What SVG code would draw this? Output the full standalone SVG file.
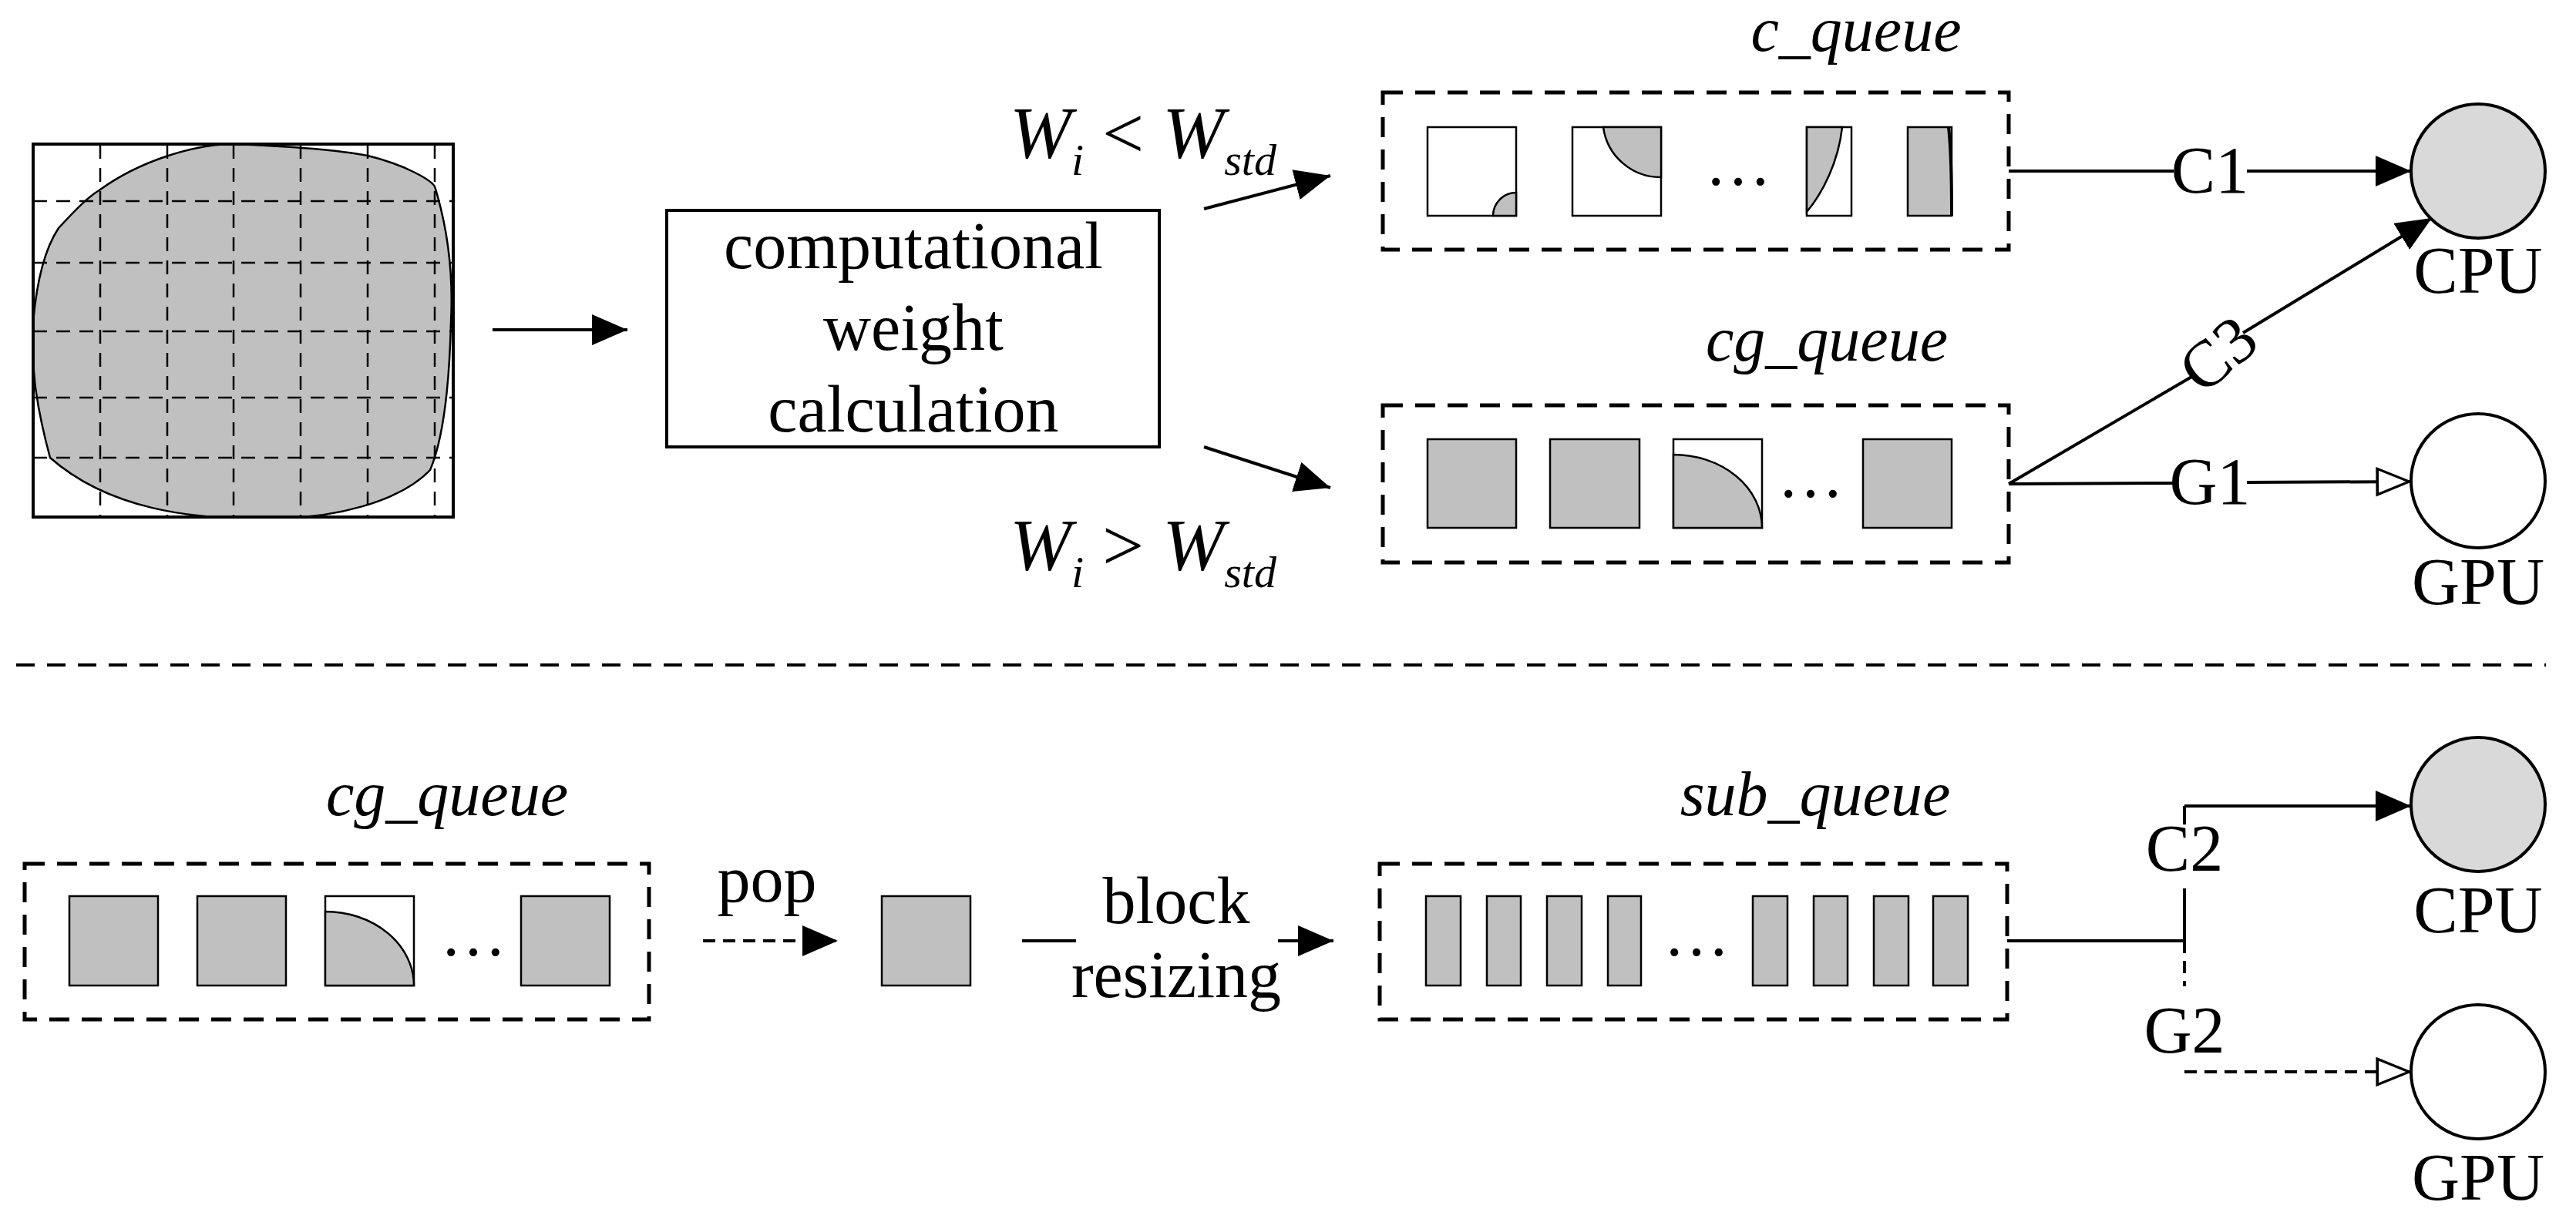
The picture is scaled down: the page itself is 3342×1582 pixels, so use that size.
<svg xmlns="http://www.w3.org/2000/svg" width="3342" height="1582" viewBox="0 0 3342 1582">
<style>
text{font-family:"Liberation Serif","Times New Roman",serif;fill:#000}
.t{font-size:86px;text-anchor:middle}
.i{font-style:italic}
.q{font-size:82px;font-style:italic;text-anchor:middle}
.box{fill:none;stroke:#000;stroke-width:5;stroke-dasharray:26,16}
.sq{fill:#c0c0c0;stroke:#000;stroke-width:2.5}
.wsq{fill:#fff;stroke:#000;stroke-width:2.5}
.ln{stroke:#000;stroke-width:4;fill:none}
.dl{stroke:#000;stroke-width:4;fill:none;stroke-dasharray:16,10}
.g{stroke:#000;stroke-width:2.5;stroke-dasharray:18,12}
</style>
<defs>
<marker id="af" viewBox="0 0 10 10" refX="10" refY="5" markerWidth="46" markerHeight="40" markerUnits="userSpaceOnUse" orient="auto" preserveAspectRatio="none"><path d="M0,0L10,5L0,10z"/></marker>
<marker id="ah" viewBox="0 0 10 10" refX="10" refY="5" markerWidth="46" markerHeight="40" markerUnits="userSpaceOnUse" orient="auto" preserveAspectRatio="none"><path d="M0.5,0.8L9.5,5L0.5,9.2z" fill="#fff" stroke="#000" stroke-width="0.8"/></marker>
</defs>
<rect width="3342" height="1582" fill="#fff"/>
<g id="grid">
<path d="M303,187 C380,190 440,195 477,202 C530,215 560,235 564,242 C582,300 588,360 585,418 C583,500 575,570 558,610 C520,650 430,676 347,671 C250,676 140,660 65,594 C45,520 40,470 43,418 C48,360 60,320 76,296 C100,270 115,255 130,246 C180,210 250,187 303,187 Z" fill="#c0c0c0" stroke="#000" stroke-width="2.5"/>
<g class="g"><line x1="130" y1="188" x2="130" y2="669"/><line x1="217" y1="188" x2="217" y2="669"/><line x1="303" y1="188" x2="303" y2="669"/><line x1="390" y1="188" x2="390" y2="669"/><line x1="477" y1="188" x2="477" y2="669"/><line x1="564" y1="188" x2="564" y2="669"/>
<line x1="43" y1="261" x2="588" y2="261"/><line x1="43" y1="341" x2="588" y2="341"/><line x1="43" y1="430" x2="588" y2="430"/><line x1="43" y1="516" x2="588" y2="516"/><line x1="43" y1="594" x2="588" y2="594"/></g>
<rect x="43" y="187" width="545" height="484" fill="none" stroke="#000" stroke-width="4"/>
</g>
<g id="calc">
<rect x="865" y="273" width="639" height="307" fill="#fff" stroke="#000" stroke-width="4"/>
<text class="t" x="1185" y="348">computational</text>
<text class="t" x="1185" y="454">weight</text>
<text class="t" x="1185" y="560">calculation</text>
</g>
<g id="cond1"><text class="i" x="1310" y="205" font-size="96">W<tspan font-size="58" dy="22">i</tspan><tspan dy="-22" font-size="96" font-style="normal"> &lt; </tspan>W<tspan font-size="58" dy="22">std</tspan></text></g>
<g id="cond2"><text class="i" x="1310" y="740" font-size="96">W<tspan font-size="58" dy="22">i</tspan><tspan dy="-22" font-size="96" font-style="normal"> &gt; </tspan>W<tspan font-size="58" dy="22">std</tspan></text></g>
<g id="cqueue">
<text class="q" x="2408" y="66">c_queue</text>
<rect class="box" x="1794" y="120" width="812" height="204"/>
<rect class="wsq" x="1852" y="165" width="115" height="115"/>
<path d="M1967,250 A30,30 0 0 0 1937,280 L1967,280Z" class="sq"/>
<rect class="wsq" x="2040" y="165" width="115" height="115"/>
<path d="M2080,165 A75,75 0 0 0 2155,230 L2155,165Z" class="sq"/>
<text class="t" x="2255" y="240">…</text>
<rect class="wsq" x="2344" y="165" width="58" height="115"/>
<path d="M2344,165 L2390,165 C2385,210 2365,250 2344,275Z" class="sq"/>
<rect class="sq" x="2475" y="165" width="57" height="115"/>
<path d="M2528,165 C2532,200 2532,240 2532,280" class="ln" stroke-width="2"/>
</g>
<g id="cgqueue">
<text class="q" x="2370" y="468">cg_queue</text>
<rect class="box" x="1794" y="526" width="812" height="204"/>
<rect class="sq" x="1852" y="570" width="115" height="115"/>
<rect class="sq" x="2011" y="570" width="116" height="115"/>
<rect class="wsq" x="2171" y="570" width="115" height="115"/>
<path d="M2171,590 A115,95 0 0 1 2286,685 L2171,685Z" class="sq"/>
<text class="t" x="2349" y="645">…</text>
<rect class="sq" x="2417" y="570" width="115" height="115"/>
</g>
<g id="cpu1"><circle cx="3215" cy="222" r="87" fill="#d9d9d9" stroke="#000" stroke-width="4"/><text class="t" x="3215" y="380">CPU</text></g>
<g id="gpu1"><circle cx="3215" cy="624" r="87" fill="#fff" stroke="#000" stroke-width="4"/><text class="t" x="3215" y="784">GPU</text></g>
<line x1="21" y1="863" x2="3303" y2="863" stroke="#000" stroke-width="4" stroke-dasharray="24,16"/>
<g id="cgqueue2">
<text class="q" x="580" y="1058">cg_queue</text>
<rect class="box" x="32" y="1121" width="810" height="202"/>
<rect class="sq" x="90" y="1163" width="115" height="116"/>
<rect class="sq" x="256" y="1163" width="115" height="116"/>
<rect class="wsq" x="422" y="1163" width="115" height="116"/>
<path d="M422,1183 A115,96 0 0 1 537,1279 L422,1279Z" class="sq"/>
<text class="t" x="614" y="1240">…</text>
<rect class="sq" x="676" y="1163" width="115" height="116"/>
</g>
<g id="single"><rect class="sq" x="1144" y="1163" width="115" height="116"/></g>
<g id="subqueue">
<text class="q" x="2355" y="1058">sub_queue</text>
<rect class="box" x="1790" y="1121" width="814" height="202"/>
<rect class="sq" x="1850" y="1163" width="45" height="116"/>
<rect class="sq" x="1929" y="1163" width="44" height="116"/>
<rect class="sq" x="2007" y="1163" width="45" height="116"/>
<rect class="sq" x="2086" y="1163" width="43" height="116"/>
<text class="t" x="2201" y="1240">…</text>
<rect class="sq" x="2274" y="1163" width="45" height="116"/>
<rect class="sq" x="2353" y="1163" width="44" height="116"/>
<rect class="sq" x="2431" y="1163" width="45" height="116"/>
<rect class="sq" x="2508" y="1163" width="45" height="116"/>
</g>
<g id="cpu2"><circle cx="3215" cy="1044" r="87" fill="#d9d9d9" stroke="#000" stroke-width="4"/><text class="t" x="3215" y="1210">CPU</text></g>
<g id="gpu2"><circle cx="3215" cy="1391" r="87" fill="#fff" stroke="#000" stroke-width="4"/><text class="t" x="3215" y="1557">GPU</text></g>
<g id="connectors">
<line class="ln" x1="639" y1="428" x2="814" y2="428" marker-end="url(#af)"/>
<line class="ln" x1="1562" y1="271" x2="1726" y2="228" marker-end="url(#af)"/>
<line class="ln" x1="1562" y1="580" x2="1726" y2="633" marker-end="url(#af)"/>
<line class="ln" x1="2606" y1="222" x2="2820" y2="222"/>
<line class="ln" x1="2915" y1="222" x2="3128" y2="222" marker-end="url(#af)"/>
<text class="t" x="2867" y="250">C1</text>
<line class="ln" x1="2606" y1="628" x2="2820" y2="627"/>
<line class="ln" x1="2915" y1="626" x2="3128" y2="625" marker-end="url(#ah)"/>
<text class="t" x="2867" y="654">G1</text>
<line class="ln" x1="2606" y1="628" x2="2845" y2="488"/>
<line class="ln" x1="2910" y1="432" x2="3155" y2="283" marker-end="url(#af)"/>
<text class="t" x="2878" y="488" transform="rotate(-40 2878 460)">C3</text>
<line class="dl" x1="912" y1="1221" x2="1087" y2="1221" marker-end="url(#af)"/>
<text class="t" x="995" y="1170">pop</text>
<line class="ln" x1="1326" y1="1221" x2="1396" y2="1221"/>
<line class="ln" x1="1658" y1="1221" x2="1730" y2="1221" marker-end="url(#af)"/>
<text class="t" x="1526" y="1198">block</text>
<text class="t" x="1526" y="1294">resizing</text>
<line class="ln" x1="2604" y1="1221" x2="2834" y2="1221"/>
<line class="ln" x1="2834" y1="1153" x2="2834" y2="1221"/>
<line class="dl" x1="2834" y1="1221" x2="2834" y2="1280"/>
<line class="ln" x1="2834" y1="1046" x2="2834" y2="1070"/>
<line class="ln" x1="2834" y1="1046" x2="3128" y2="1046" marker-end="url(#af)"/>
<text class="t" x="2834" y="1130">C2</text>
<line class="dl" x1="2834" y1="1391" x2="3128" y2="1391" marker-end="url(#ah)"/>
<text class="t" x="2834" y="1366">G2</text>
</g>
</svg>
